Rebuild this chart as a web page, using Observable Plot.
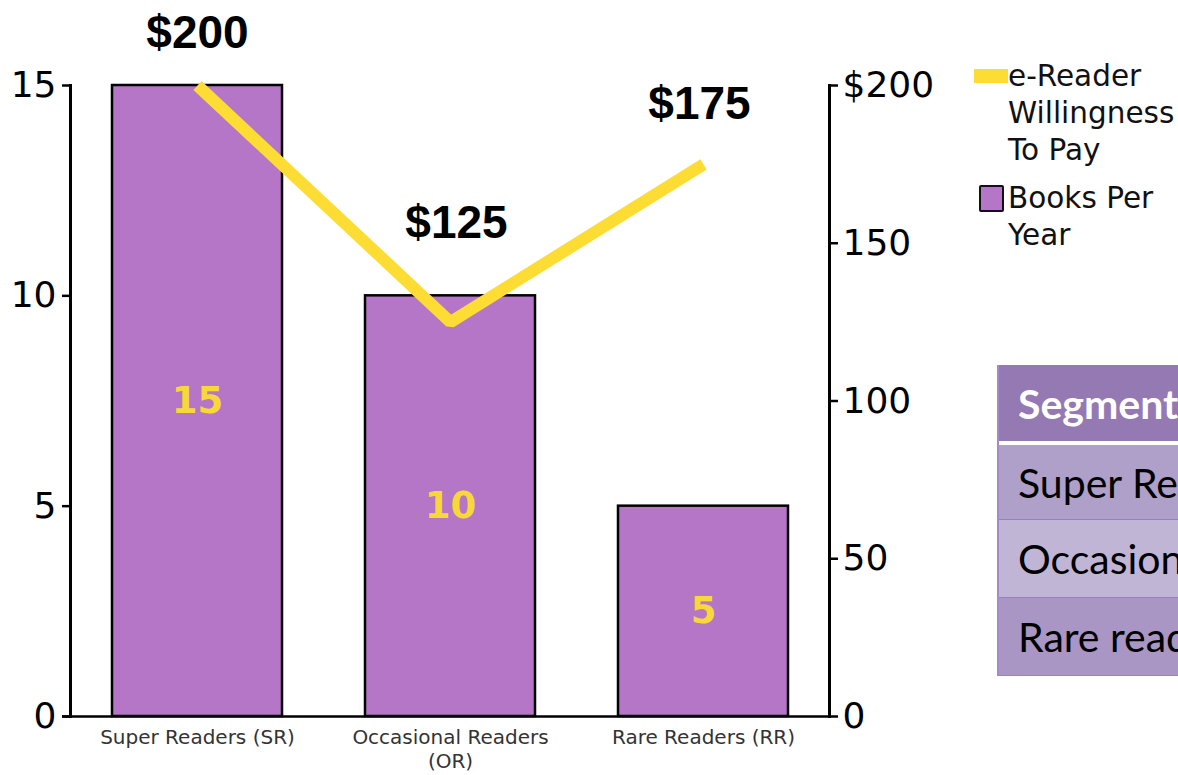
<!DOCTYPE html>
<html>
<head>
<meta charset="utf-8">
<script src="https://cdn.jsdelivr.net/npm/d3@7"></script>
<script src="https://cdn.jsdelivr.net/npm/@observablehq/plot@0.6"></script>
<style>
  html, body { margin: 0; padding: 0; background: #fff; }
  #wrap { position: relative; width: 1178px; height: 775px; overflow: hidden; background: #fff; }
  #chart { position: absolute; left: 0; top: 0; }
  .legend { position: absolute; font-family: "DejaVu Sans", Verdana, sans-serif; font-size: 29.5px; line-height: 37px; color: #111; }
  .sw-line { position: absolute; left: 974px; top: 69px; width: 34px; height: 14px; background: #FDDC33; }
  .sw-box { position: absolute; left: 979px; top: 185px; width: 21px; height: 23px; background: #B576C8; border: 2px solid #111; border-radius: 2px; }
  #table { position: absolute; left: 997px; top: 365px; width: 420px; border-left: 2px solid #A48ACB; font-family: Lato, "Open Sans", sans-serif; font-size: 41px; }
  #table div { box-sizing: border-box; padding-left: 19px; white-space: nowrap; }
  #table .hd { height: 80px; line-height: 78px; background: #9479B2; color: #fff; font-weight: bold; border-bottom: 4px solid #fff; }
  #table .r { border-bottom: 1.5px solid #9A80BE; color: #000; }
</style>
</head>
<body>
<div id="wrap">
  <div id="chart"></div>
  <div class="sw-line"></div>
  <div class="legend" style="left:1008px; top:58px;">e-Reader<br>Willingness<br>To Pay</div>
  <div class="sw-box"></div>
  <div class="legend" style="left:1008px; top:180px;">Books Per<br>Year</div>
  <div id="table"></div>
</div>
<script>
// ---- data ----
const categories = ["Super Readers (SR)", "Occasional Readers (OR)", "Rare Readers (RR)"];
const booksPerYear = [15, 10, 5];
const willingnessToPay = [200, 125, 175];
const priceLabels = ["$200", "$125", "$175"];
const leftTicks = [0, 5, 10, 15];
const rightTicks = [0, 50, 100, 150, 200];
const rightTickLabels = ["0", "50", "100", "150", "$200"];
const tableHeader = "Segment";
const tableRows = ["Super Readers", "Occasional Readers", "Rare readers"];
const tableRowColors = ["#AFA0C9", "#C0B5D5", "#AA96C4"];
const tableRowHeights = [75, 78, 78];

const booksMax = 15, priceMax = 200;
const toY = p => p * booksMax / priceMax;

const rows = categories.map((c, i) => ({
  segment: c, books: booksPerYear[i], price: willingnessToPay[i], label: priceLabels[i]
}));
const rightMap = new Map(rightTicks.map((v, i) => [toY(v), rightTickLabels[i]]));

const labelOffsets = [[0, -52], [6, -99], [-4, -60]];

const chart = Plot.plot({
  width: 1178,
  height: 775,
  marginTop: 85,
  marginBottom: 59,
  marginLeft: 70,
  marginRight: 349,
  style: { fontFamily: "DejaVu Sans, Verdana, sans-serif", background: "white", color: "#000", overflow: "visible" },
  x: { domain: categories, paddingInner: 0.33, paddingOuter: 0.162, axis: null },
  y: { domain: [0, booksMax], axis: null },
  marks: [
    Plot.barY(rows, { x: "segment", y: "books", fill: "#B576C8", stroke: "#000", strokeWidth: 2.5 }),
    Plot.text(rows, { x: "segment", y: d => d.books / 2, text: d => String(d.books), fill: "#F8D838", fontSize: 37, fontWeight: "bold" }),
    Plot.ruleY([0], { stroke: "#000", strokeWidth: 2.5, insetLeft: -8 }),
    Plot.frame({ anchor: "left", stroke: "#000", strokeWidth: 3 }),
    Plot.frame({ anchor: "right", stroke: "#000", strokeWidth: 3 }),
    Plot.axisY(leftTicks, { anchor: "left", tickSize: 8, tickPadding: 6, fontSize: 36, strokeWidth: 2.5, label: null }),
    Plot.axisY(rightTicks.map(toY), { anchor: "right", tickSize: 8, tickPadding: 5, fontSize: 36, strokeWidth: 2.5, label: null, tickFormat: d => rightMap.get(d) }),
    Plot.axisX({ tickSize: 0, tickPadding: 10, fontSize: 20, lineHeight: 1.2, fill: "#333", lineWidth: 10, label: null }),
    Plot.lineY(rows, { x: "segment", y: d => toY(d.price), stroke: "#FDDC33", strokeWidth: 12, strokeLinejoin: "miter", strokeLinecap: "butt" }),
    ...rows.map((r, i) => Plot.text([r], {
      x: "segment", y: d => toY(d.price), text: "label",
      dx: labelOffsets[i][0], dy: labelOffsets[i][1],
      fontFamily: "Liberation Sans, Arial, sans-serif", fontWeight: "bold", fontSize: 46, fill: "#000"
    }))
  ]
});
document.getElementById("chart").appendChild(chart);

// ---- table (cropped at the page edge) ----
const table = document.getElementById("table");
const hd = document.createElement("div");
hd.className = "hd";
hd.textContent = tableHeader;
table.appendChild(hd);
tableRows.forEach((t, i) => {
  const r = document.createElement("div");
  r.className = "r";
  r.textContent = t;
  r.style.background = tableRowColors[i];
  r.style.height = tableRowHeights[i] + "px";
  r.style.lineHeight = tableRowHeights[i] + "px";
  table.appendChild(r);
});
</script>
</body>
</html>
